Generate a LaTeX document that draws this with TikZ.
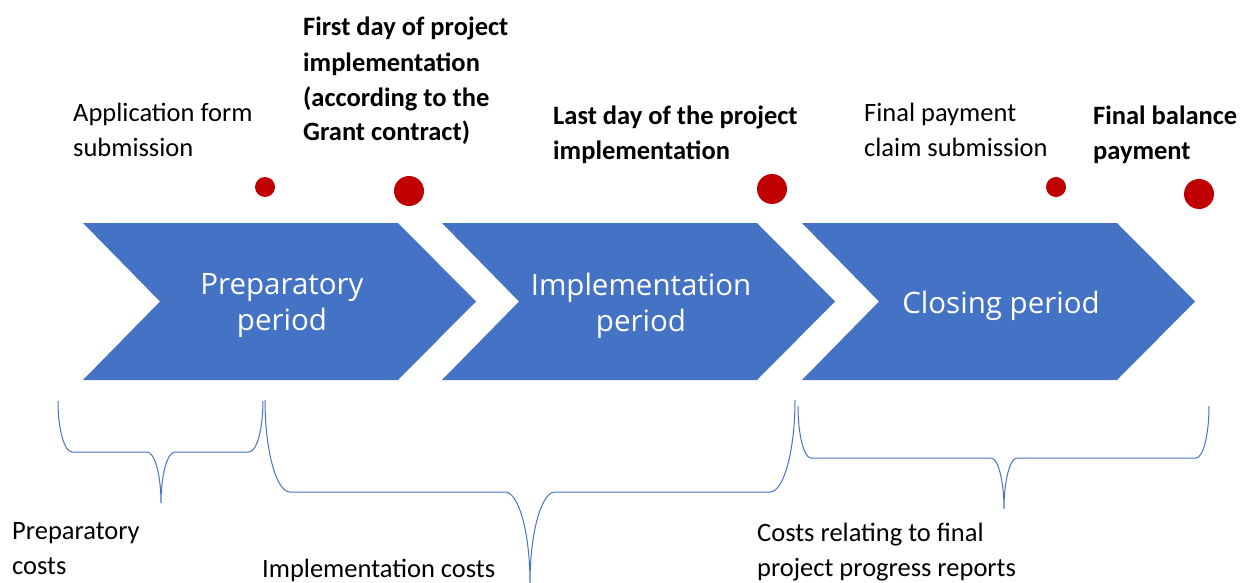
\documentclass[tikz,border=0pt]{standalone}
\usepackage{fontspec}
\setmainfont{Carlito}
\newfontfamily\chevfont{Open Sans}
\definecolor{chevblue}{HTML}{4472C4}
\definecolor{dotred}{HTML}{C00000}

\begin{document}
\begin{tikzpicture}
  [x=1pt,y=-1pt,
   lbl/.style={anchor=base west,align=left,inner sep=0pt,font=\fontsize{26.5}{35}\selectfont},
   blbl/.style={lbl,font=\fontsize{26.5}{35}\selectfont\bfseries},
   chevtxt/.style={text=white,align=center,inner sep=0pt,font=\chevfont\fontsize{29.5}{36}\selectfont},
   dot/.style={circle,fill=dotred,inner sep=0pt},
   brace/.style={draw=chevblue,line width=1pt}]

  \useasboundingbox (0,0) rectangle (1250,583);

  % the three periods
  \foreach \x in {83,442,802}
    \fill[chevblue] (\x,223) -- ++(315,0) -- ++(78,78.5) -- ++(-78,78.5) -- ++(-315,0) -- ++(77,-78.5) -- cycle;

  \node[chevtxt] (prep) at (282,306) {Preparatory\\period};
  \node[chevtxt] (impl) at (641,306) {Implementation\\period};
  \node[chevtxt] (clos) at (1001,306) {Closing period};

  % milestones
  \node[dot,minimum size=20pt] (d1) at (265,187) {};
  \node[dot,minimum size=30pt] (d2) at (409,191) {};
  \node[dot,minimum size=30pt] (d3) at (772,189) {};
  \node[dot,minimum size=20pt] (d4) at (1056,187) {};
  \node[dot,minimum size=30pt] (d5) at (1199,194) {};

  \node[lbl]  (appl)  at (73,157)  {Application form\\submission};
  \node[blbl] (first) at (303,141) {First day of project\\implementation\\(according to the\\Grant contract)};
  \node[blbl] (last)  at (553,160) {Last day of the project\\implementation};
  \node[lbl]  (claim) at (864,157) {Final payment\\claim submission};
  \node[blbl] (bal)   at (1093,160) {Final balance\\payment};

  % cost periods (quarter ellipses)
  \foreach \l/\r/\t/\m/\c/\b/\d in {58/263/401/452/161/503/14,265/795/400/492/530/583/25,798/1209/406/458/1004/509/13}
    \draw[brace] (\l,\t) .. controls (\l,{\t+0.55*(\m-\t)}) and ({\l+0.45*\d},\m) .. (\l+\d,\m) -- (\c-\d,\m)
      .. controls ({\c-0.45*\d},\m) and (\c,{\b-0.55*(\b-\m)}) .. (\c,\b)
      .. controls (\c,{\b-0.55*(\b-\m)}) and ({\c+0.45*\d},\m) .. (\c+\d,\m)
      -- (\r-\d,\m) .. controls ({\r-0.45*\d},\m) and (\r,{\t+0.55*(\m-\t)}) .. (\r,\t);

  \node[lbl] (pcost) at (12,574)  {Preparatory\\costs};
  \node[lbl] (icost) at (262,577) {Implementation costs};
  \node[lbl] (ccost) at (757,576) {Costs relating to final\\project progress reports};

\end{tikzpicture}
\end{document}
